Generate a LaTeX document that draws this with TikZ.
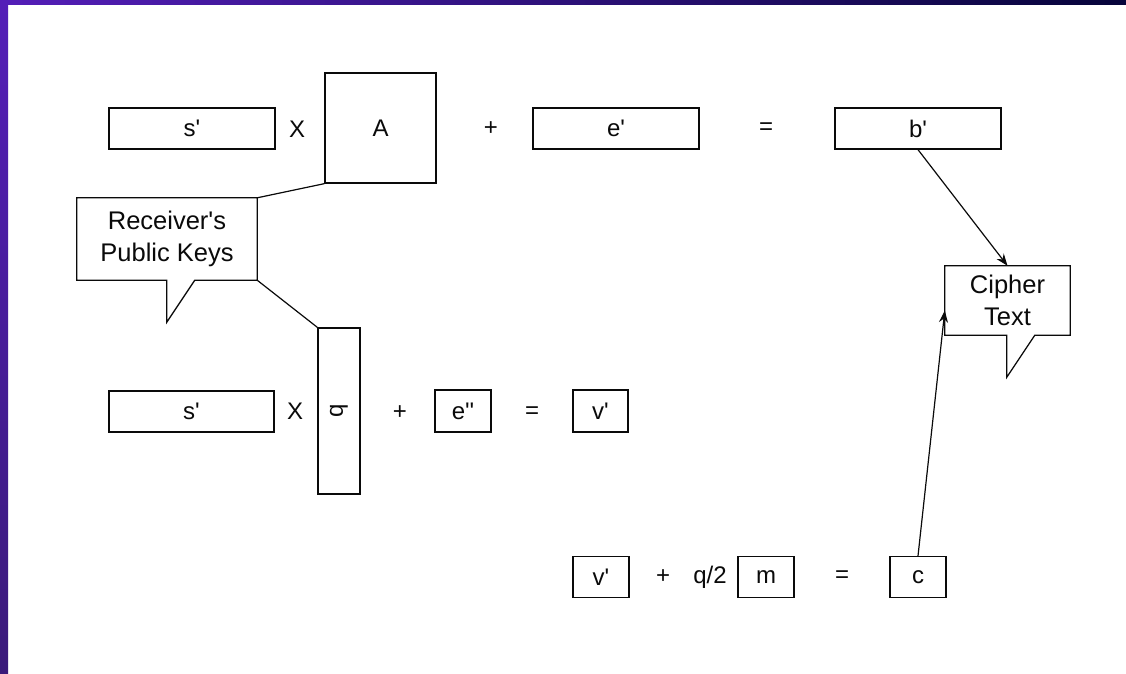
\documentclass[tikz,border=0pt]{standalone}
\usepackage{fontspec}
\setmainfont{Liberation Sans}
\usepackage{graphicx}
\usetikzlibrary{arrows.meta,calc}
\newcommand{\ap}{\textquotesingle}
\definecolor{barpurple}{RGB}{84,30,184}
\definecolor{barnavy}{RGB}{6,4,58}
\definecolor{barlow}{RGB}{58,26,122}
\definecolor{inkc}{RGB}{10,10,10}
\tikzset{
  eqbox/.style={draw=inkc, line width=1.3pt, inner sep=0pt, text=inkc,
    font=\fontsize{24}{26}\selectfont},
  sym/.style={inner sep=0pt, text=inkc, font=\fontsize{24}{26}\selectfont},
  callout/.style={draw=none, inner sep=0pt, align=center, text=inkc,
    font=\fontsize{25.5}{32}\selectfont},
  callline/.style={draw=inkc, line width=1.3pt, line join=miter},
  link/.style={draw=inkc, line width=1.2pt},
  arr/.style={draw=inkc, line width=1.2pt, -{Stealth[length=12pt,width=9pt]}}
}
\begin{document}
\begin{tikzpicture}[x=1pt,y=-1pt]
\useasboundingbox (0,0) rectangle (1126,673);
\fill[white] (0,0) rectangle (1126,673);
\shade[left color=barpurple, right color=barnavy] (0,0) rectangle (1126,4);
\shade[top color=barpurple, bottom color=barlow] (0,0) rectangle (8,673);

% row 1
\node[eqbox, minimum width=166pt, minimum height=41pt] (s1) at (192,128.5) {s\ap};
\node[sym] (x1) at (297,129) {X};
\node[eqbox, minimum width=111pt, minimum height=110pt] (A) at (380.5,128) {A};
\node[sym] (p1) at (491,129) {+};
\node[eqbox, minimum width=166pt, minimum height=41pt] (e1) at (616,128.5) {e\ap};
\node[sym] (q1) at (766,129) {=};
\node[eqbox, minimum width=166pt, minimum height=41pt] (b1) at (918,128.5) {b\ap};

% callout receiver
\node[callout, minimum width=180pt, minimum height=82pt] (rk) at (167,239) {Receiver\ap s\\Public Keys};
\path[callline] (rk.north west) -- (rk.north east) -- (rk.south east)
  -- ($(rk.south west)+(118,0)$) -- ($(rk.south west)+(90,42)$) -- ($(rk.south west)+(90,0)$)
  -- (rk.south west) -- cycle;

% row 2
\node[eqbox, minimum width=165pt, minimum height=41pt] (s2) at (191.5,411.5) {s\ap};
\node[sym] (x2) at (295,411) {X};
\node[eqbox, minimum width=42pt, minimum height=166pt] (qv) at (339,411) {\rotatebox{90}{q}};
\node[sym] (p2) at (400,413) {+};
\node[eqbox, minimum width=56pt, minimum height=42pt] (e2) at (463,411) {e\ap\ap};
\node[sym] (q2) at (532,413) {=};
\node[eqbox, minimum width=55pt, minimum height=42pt] (v1) at (600.5,411) {v\ap};

% row 3
\node[eqbox, minimum width=56pt, minimum height=41pt] (v2) at (601,577) {v\ap};
\node[sym] (p3) at (663,577) {+};
\node[sym] (half) at (710,577) {q/2};
\node[eqbox, minimum width=56pt, minimum height=41pt] (m) at (766,577) {m};
\node[sym] (q3) at (842,577) {=};
\node[eqbox, minimum width=56pt, minimum height=41pt] (c) at (918,577) {c};

% callout cipher
\node[callout, minimum width=125pt, minimum height=69pt] (ct) at (1007.5,300.5) {Cipher\\Text};
\path[callline] (ct.north west) -- (ct.north east) -- (ct.south east)
  -- ($(ct.south west)+(90,0)$) -- ($(ct.south west)+(62,42)$) -- ($(ct.south west)+(62,0)$)
  -- (ct.south west) -- cycle;
\coordinate (ctin) at ($(ct.west)+(0,10)$);

% connectors
\draw[link] (rk.north east) -- (A.south west);
\draw[link] (rk.south east) -- (qv.north west);
\draw[arr] (b1.south) -- (ct.north);
\draw[arr] (c.north) -- (ctin);
\end{tikzpicture}
\end{document}
